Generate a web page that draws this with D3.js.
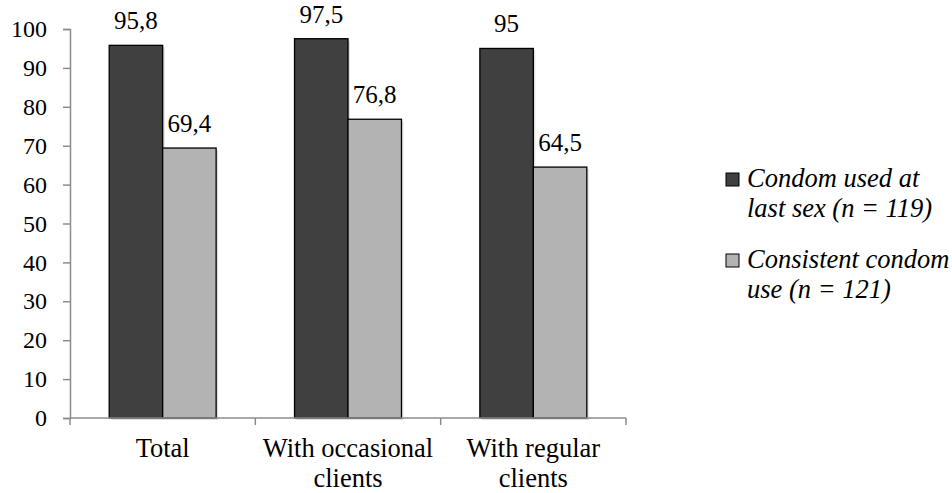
<!DOCTYPE html>
<html>
<head>
<meta charset="utf-8">
<script src="https://cdn.jsdelivr.net/npm/d3@7"></script>
</head>
<body style="margin:0">
<svg id="chart" width="952" height="493"></svg>
<script>
// Categories (each label split into lines) and the two series
const categories = ["Total", "With occasional clients", "With regular clients"];
const categoryLines = [["Total"], ["With occasional", "clients"], ["With regular", "clients"]];
const legendLines = [["Condom used at", "last sex (n = 119)"], ["Consistent condom", "use (n = 121)"]];
const usedAtLastSex = [95.8, 97.5, 95];
const consistentUse = [69.4, 76.8, 64.5];
const valueLabels = [["95,8", "97,5", "95"], ["69,4", "76,8", "64,5"]];
const yTicks = [0, 10, 20, 30, 40, 50, 60, 70, 80, 90, 100];

const series = [usedAtLastSex, consistentUse];
const colors = ["#404040", "#b3b3b3"];
const FONT = "Liberation Serif";

const svg = d3.select("#chart");
const left = 70, right = 626;

const x = d3.scaleBand().domain(categories).range([left, right]);
const y = d3.scaleLinear().domain([0, 100]).range([418, 29]);
const groupW = x.bandwidth() * 0.577;
const xs = d3.scaleBand().domain([0, 1]).range([0, groupW]);
const barX = (i, si) => x(categories[i]) + (x.bandwidth() - groupW) / 2 + xs(si);

// y axis
const yAxis = svg.append("g").attr("transform", `translate(${left},0)`)
  .call(d3.axisLeft(y).tickValues(yTicks).tickSize(7).tickPadding(16).tickFormat(d3.format("d")));
yAxis.attr("font-family", null).attr("font-size", null);
yAxis.select(".domain").attr("stroke", "#8c8c8c").attr("stroke-width", 1.5);
yAxis.selectAll(".tick line").attr("stroke", "#8c8c8c").attr("stroke-width", 1.5);
yAxis.selectAll(".tick text").attr("fill", "#000").style("font-family", FONT).attr("font-size", 24);

// bars and value labels
series.forEach((vals, si) => {
  // faint shadow offset to the lower right
  svg.append("g").selectAll("rect").data(vals).join("rect")
    .attr("x", (d, i) => barX(i, si) + 2)
    .attr("y", d => y(d) + 2)
    .attr("width", xs.bandwidth())
    .attr("height", d => y(0) - y(d))
    .attr("fill", "#000").attr("opacity", 0.12);
  svg.append("g").selectAll("rect").data(vals).join("rect")
    .attr("x", (d, i) => barX(i, si))
    .attr("y", d => y(d))
    .attr("width", xs.bandwidth())
    .attr("height", d => y(0) - y(d))
    .attr("fill", colors[si])
    .attr("stroke", "#000")
    .attr("stroke-width", 1.3);
  svg.append("g").selectAll("text").data(vals).join("text")
    .attr("x", (d, i) => barX(i, si) + xs.bandwidth() / 2)
    .attr("y", d => y(d) - 16)
    .attr("text-anchor", "middle")
    .style("font-family", FONT).attr("font-size", 25)
    .text((d, i) => valueLabels[si][i]);
});

// x axis with boundary ticks between categories
const xAxisG = svg.append("g").attr("transform", `translate(0,${y(0)})`);
xAxisG.append("line").attr("x1", left).attr("x2", right).attr("stroke", "#8c8c8c").attr("stroke-width", 1.5);
const boundaries = [left].concat(categories.map(c => x(c) + x.bandwidth()));
xAxisG.selectAll("line.tk").data(boundaries).join("line").attr("class", "tk")
  .attr("x1", d => d).attr("x2", d => d).attr("y1", 0).attr("y2", 7)
  .attr("stroke", "#8c8c8c").attr("stroke-width", 1.5);
categoryLines.forEach((lines, i) => {
  lines.forEach((ln, k) => {
    svg.append("text").attr("text-anchor", "middle")
      .style("font-family", FONT).attr("font-size", 26.5)
      .attr("x", x(categories[i]) + x.bandwidth() / 2).attr("y", 457 + k * 30).text(ln);
  });
});

// legend
legendLines.forEach((lines, i) => {
  const g = svg.append("g").attr("transform", `translate(726,${173 + i * 81})`);
  g.append("rect").attr("width", 13).attr("height", 13).attr("fill", colors[i]).attr("stroke", "#000").attr("stroke-width", 1);
  lines.forEach((ln, k) => g.append("text").style("font-family", FONT).attr("font-size", 26.5).style("font-style", "italic")
    .attr("x", 21).attr("y", 14 + k * 30).text(ln));
});
</script>
</body>
</html>
